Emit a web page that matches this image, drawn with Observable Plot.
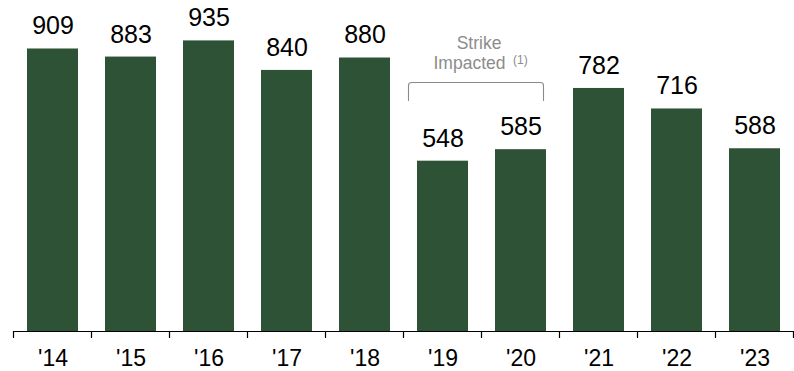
<!DOCTYPE html>
<html>
<head>
<meta charset="utf-8">
<script src="https://cdn.jsdelivr.net/npm/d3@7"></script>
<script src="https://cdn.jsdelivr.net/npm/@observablehq/plot@0.6"></script>
<style>
  html, body { margin: 0; padding: 0; background: #fff; }
  #chart { width: 794px; height: 371px; overflow: hidden; }
  svg { font-family: "Liberation Sans", Arial, sans-serif; }
</style>
</head>
<body>
<div id="chart"></div>
<script>
const years = ["'14", "'15", "'16", "'17", "'18", "'19", "'20", "'21", "'22", "'23"];
const values = [909, 883, 935, 840, 880, 548, 585, 782, 716, 588];
const annotFrom = "'19";
const annotTo = "'20";
const annotLine1 = "Strike";
const annotLine2 = "Impacted";
const annotNote = "(1)";

const data = years.map((y, i) => ({year: y, value: values[i]}));
const barColor = "#2e5236";
const pad = 0.35;

function boundaryTicks(index, scales, vals, dims) {
  const x = scales.x;
  const step = x(years[1]) - x(years[0]);
  const bw = step * (1 - pad);
  const y0 = scales.y(0);
  const g = d3.create("svg:g").attr("stroke", "#000").attr("stroke-width", 1.2);
  const xs = years.map(c => x(c) - step * pad / 2);
  xs.push(x(years[years.length - 1]) + bw + step * pad / 2);
  for (const xx of xs) {
    const px = Math.round(xx) + 0.5;
    g.append("line").attr("x1", px).attr("x2", px).attr("y1", y0).attr("y2", y0 + 7);
  }
  g.append("line").attr("x1", xs[0]).attr("x2", dims.width + 5).attr("y1", y0 + 0.5).attr("y2", y0 + 0.5);
  return g.node();
}

function annotation(index, scales, vals, dims) {
  const x = scales.x;
  const step = x(years[1]) - x(years[0]);
  const bw = step * (1 - pad);
  const x1 = Math.round(x(annotFrom) - 9) + 0.5;
  const x2 = Math.round(x(annotTo) + bw - 3) + 0.5;
  const cx = (x1 + x2) / 2;
  const g = d3.create("svg:g");
  const top = 82.5, bottom = 101, r = 3;
  g.append("path")
    .attr("fill", "none")
    .attr("stroke", "#8a8a8a")
    .attr("stroke-width", 1.1)
    .attr("d", `M${x1},${bottom} V${top + r} Q${x1},${top} ${x1 + r},${top} H${x2 - r} Q${x2},${top} ${x2},${top + r} V${bottom}`);
  g.append("text")
    .attr("x", cx + 3).attr("y", 48.5)
    .attr("text-anchor", "middle")
    .attr("fill", "#8c8c8c")
    .attr("font-size", 17.5)
    .text(annotLine1);
  g.append("text")
    .attr("x", cx - 6.5).attr("y", 69)
    .attr("text-anchor", "middle")
    .attr("fill", "#8c8c8c")
    .attr("font-size", 17.5)
    .text(annotLine2);
  g.append("text")
    .attr("x", cx + 37).attr("y", 64)
    .attr("text-anchor", "start")
    .attr("fill", "#8c8c8c")
    .attr("font-size", 12)
    .text(annotNote);
  return g.node();
}

const plot = Plot.plot({
  width: 794,
  height: 371,
  marginLeft: 11,
  marginRight: -1.5,
  marginTop: 0,
  marginBottom: 40,
  style: {fontFamily: "'Liberation Sans', Arial, sans-serif", background: "#fff", overflow: "hidden"},
  x: {domain: years, paddingInner: pad, paddingOuter: pad / 2, label: null},
  y: {domain: [0, 1065], axis: null},
  marks: [
    Plot.barY(data, {x: "year", y: "value", fill: barColor}),
    Plot.text(data, {x: "year", y: "value", text: d => String(d.value), lineAnchor: "bottom", dy: -14.5, fontSize: 25, fill: "#000"}),
    Plot.axisX({tickSize: 0, tickPadding: 18, fontSize: 23, fill: "#000"}),
    boundaryTicks,
    annotation
  ]
});
document.getElementById("chart").appendChild(plot);
</script>
</body>
</html>
